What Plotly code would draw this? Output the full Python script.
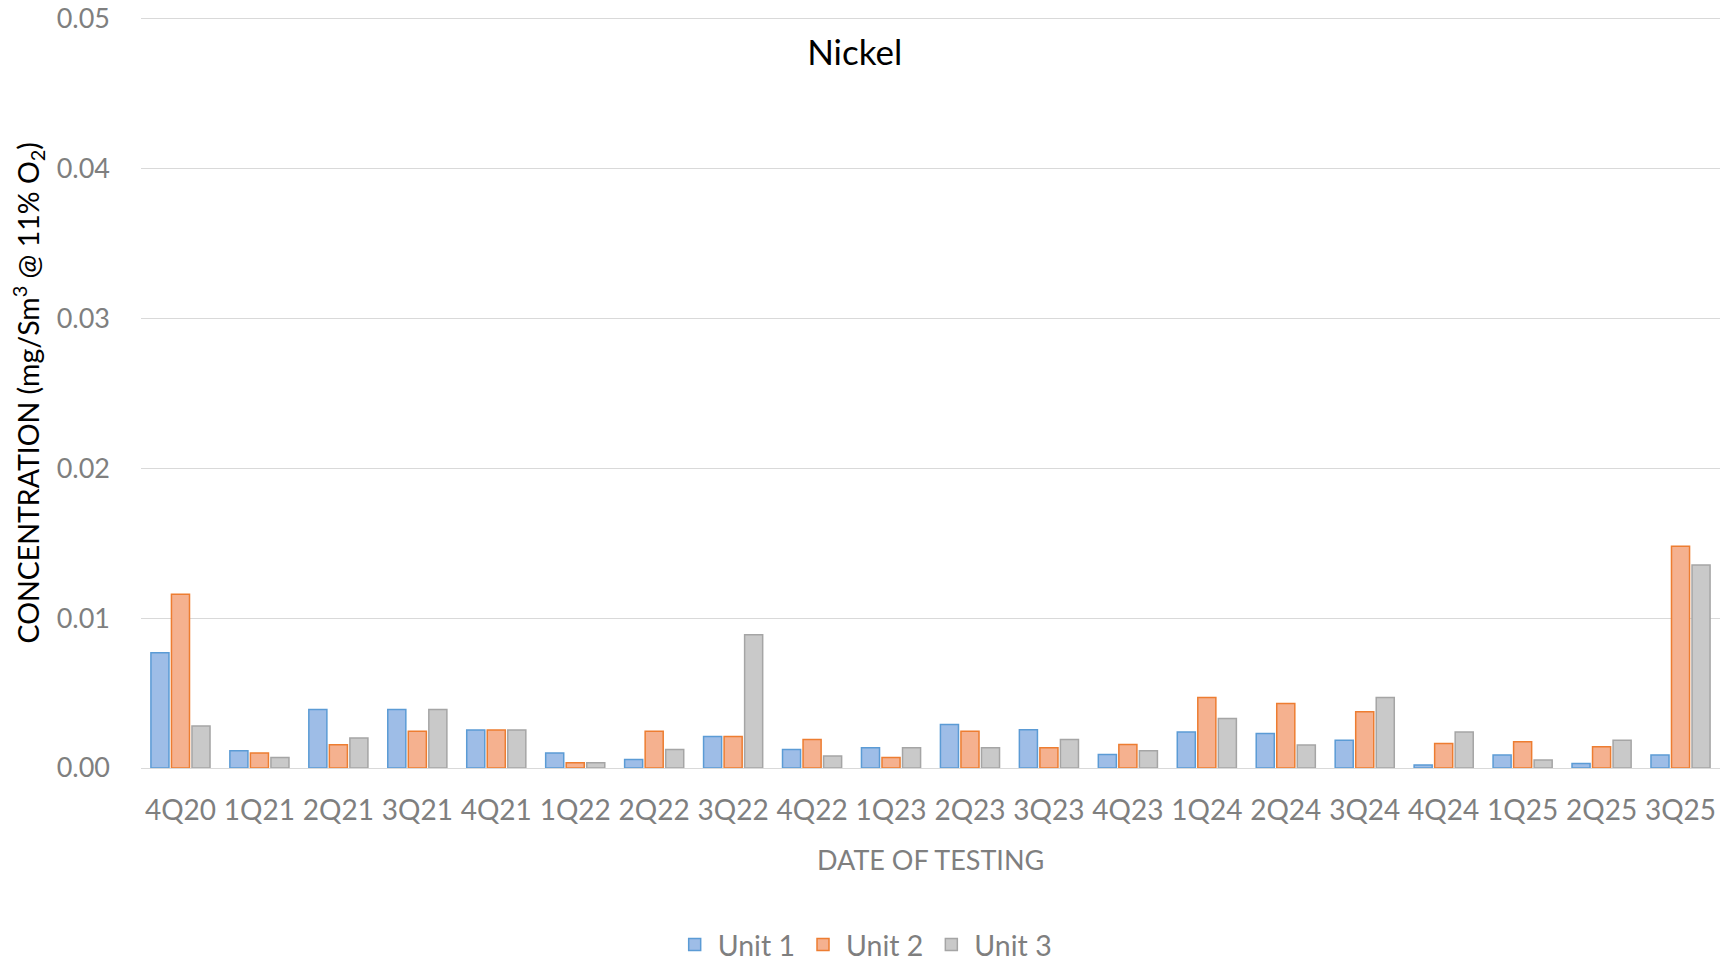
import plotly.graph_objects as go

# --- dados ---
trimestres = ['4Q20', '1Q21', '2Q21', '3Q21', '4Q21', '1Q22', '2Q22', '3Q22', '4Q22', '1Q23',
              '2Q23', '3Q23', '4Q23', '1Q24', '2Q24', '3Q24', '4Q24', '1Q25', '2Q25', '3Q25']

unit1 = [0.0077, 0.00115, 0.0039, 0.0039, 0.00254, 0.0010, 0.00057, 0.0021, 0.00124, 0.00135,
         0.0029, 0.00256, 0.0009, 0.0024, 0.0023, 0.00186, 0.0002, 0.00086, 0.0003, 0.00086]
unit2 = [0.0116, 0.0010, 0.00155, 0.00245, 0.00254, 0.00035, 0.00245, 0.0021, 0.0019, 0.0007,
         0.00245, 0.00135, 0.00157, 0.0047, 0.0043, 0.00375, 0.00164, 0.00175, 0.00142, 0.0148]
unit3 = [0.0028, 0.0007, 0.0020, 0.0039, 0.00254, 0.00035, 0.00124, 0.0089, 0.0008, 0.00135,
         0.00135, 0.0019, 0.00115, 0.0033, 0.00153, 0.0047, 0.0024, 0.00053, 0.00186, 0.01355]

y_ticks = [0, 0.01, 0.02, 0.03, 0.04, 0.05]
y_tick_labels = ['0.00', '0.01', '0.02', '0.03', '0.04', '0.05']

series = [
    ('Unit 1', unit1, '#9ebde7', '#5b9bd5'),
    ('Unit 2', unit2, '#f5b18f', '#ed7d31'),
    ('Unit 3', unit3, '#c9c9c9', '#a5a5a5'),
]

fonte = 'Lato'
cinza = '#7f7f7f'

# figura um pouco mais alta que a janela, para a legenda não empurrar a margem;
# o excesso fica escondido (overflow hidden no body)
largura, altura = 1731, 1000
m_esq, m_dir, m_topo = 141, 11, 19
base_plot = 768                      # y (px) do eixo x na página
m_base = altura - base_plot
alt_plot = base_plot - m_topo

fig = go.Figure()
for nome, valores, cor, borda in series:
    fig.add_trace(go.Bar(
        x=trimestres,
        y=valores,
        name=nome,
        marker=dict(color=cor, line=dict(color=borda, width=1.5)),
    ))

fig.update_layout(
    width=largura,
    height=altura,
    barmode='group',
    bargap=0.22,
    bargroupgap=0.12,
    plot_bgcolor='white',
    paper_bgcolor='white',
    font=dict(family=fonte, color=cinza),
    margin=dict(l=m_esq, r=m_dir, t=m_topo, b=m_base),
    title=dict(text='Nickel', x=0.452, xref='paper', y=1 - 53 / altura, yref='container',
               xanchor='center', yanchor='middle', font=dict(size=35, color='#000000', family=fonte)),
    legend=dict(orientation='h', x=0.458, xanchor='center', y=-177 / alt_plot, yanchor='middle',
                font=dict(size=28.5, color=cinza), traceorder='normal', itemwidth=36),
    xaxis=dict(
        type='category',
        automargin=False,
        showgrid=False,
        showline=True,
        mirror=True,            # linha do topo = grade de 0.05
        linecolor='#d9d9d9',
        linewidth=1.2,
        ticks='',
        tickfont=dict(size=28, color=cinza),
        ticklabelstandoff=17,
    ),
    yaxis=dict(
        automargin=False,
        range=[0, 0.05],
        tickvals=y_ticks,
        ticktext=y_tick_labels,
        showgrid=True,
        gridcolor='#d9d9d9',
        gridwidth=1,
        zeroline=False,
        tickfont=dict(size=27, color=cinza),
        ticklabelstandoff=30,
        ticklabeloverflow='allow',
    ),
)

# títulos dos eixos
fig.add_annotation(
    text='CONCENTRATION (mg/Sm<sup>3</sup> @ 11% O<sub>2</sub>)',
    xref='paper', yref='paper', x=-113 / 1579, y=0.5,
    xanchor='center', yanchor='middle', textangle=-90, showarrow=False,
    font=dict(size=28.5, color='#000000', family=fonte),
)
fig.add_annotation(
    text='DATE OF TESTING',
    xref='paper', yref='paper', x=0.5, y=-92 / alt_plot,
    xanchor='center', yanchor='middle', showarrow=False,
    font=dict(size=27, color=cinza, family=fonte),
)

fig.write_html(
    'out.html',
    config={'displayModeBar': False},
    post_script="document.body.style.margin='0';document.body.style.overflow='hidden';",
)
